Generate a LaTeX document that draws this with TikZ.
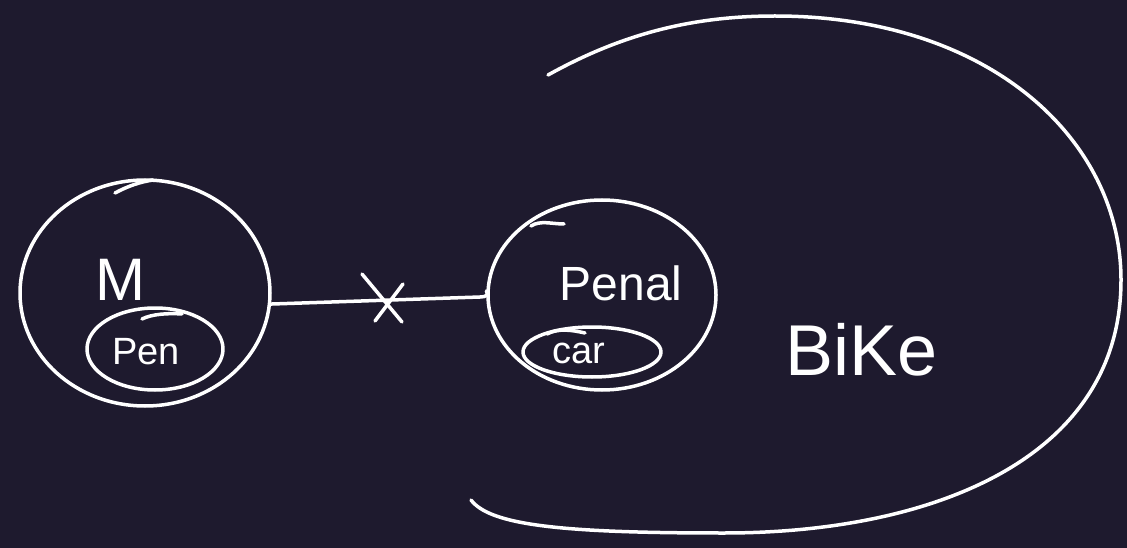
\documentclass[tikz,border=0pt]{standalone}
\usepackage{fontspec}
\setmainfont{Liberation Sans}
\usetikzlibrary{shapes.geometric}
\definecolor{bg}{RGB}{30,26,46}
\begin{document}
\begin{tikzpicture}[x=1pt,y=-1pt,
  ink/.style={draw=white,line width=3.5pt,line cap=round,line join=round},
  oval/.style={ink,ellipse,inner sep=0pt,minimum width=#1},
  hand/.style={text=white,inner sep=0pt,anchor=base}]
\fill[bg] (0,0) rectangle (1127,548);
\useasboundingbox (0,0) rectangle (1127,548);
% M circle
\node[oval=250pt,minimum height=226pt] (mc) at (145,293) {};
\draw[ink] (115,193) .. controls (128,186) and (140,182) .. (153,180);
\node[hand,font=\fontsize{60}{60}\selectfont] (mt) at (120,300) {M};
% Pen ellipse
\node[oval=136pt,minimum height=82pt] (pe) at (155,349) {};
\draw[ink] (142,319) .. controls (152,314) and (168,313) .. (182,314);
\node[hand,font=\fontsize{38}{38}\selectfont] (pt) at (146,364) {Pen};
% Penal circle
\node[oval=228pt,minimum height=190pt] (pc) at (602,295) {};
\draw[ink] (531,226) .. controls (540,220) and (552,224) .. (564,224);
\node[hand,font=\fontsize{48}{48}\selectfont] (pnt) at (621,300) {Penal};
% car ellipse
\node[oval=138pt,minimum height=50pt] (ce) at (592,352) {};
\draw[ink] (547,334) .. controls (558,328) and (572,330) .. (585,333);
\node[hand,font=\fontsize{38}{38}\selectfont] (ct) at (579,363) {car};
% connector with X
\draw[ink] (mc.-5) -- (480,297) .. controls (486,297) and (489,295) .. (pc.178);
\coordinate (xm) at (383,299);
\draw[ink] ([shift={(-21,-25)}]xm) -- ([shift={(19,23)}]xm);
\draw[ink] ([shift={(20,-15)}]xm) -- ([shift={(-8,22)}]xm);
% Bike arc
\coordinate (bs) at (548,75);
\coordinate (be) at (471,500);
\draw[ink] (bs) .. controls (620,35) and (690,16) .. (775,16)
  .. controls (990,16) and (1121,140) .. (1121,280)
  .. controls (1121,460) and (930,533) .. (724,533)
  .. controls (560,533) and (490,525) .. (be);
\node[hand,font=\fontsize{72}{72}\selectfont] (bt) at (862,375) {BiKe};
\end{tikzpicture}
\end{document}
